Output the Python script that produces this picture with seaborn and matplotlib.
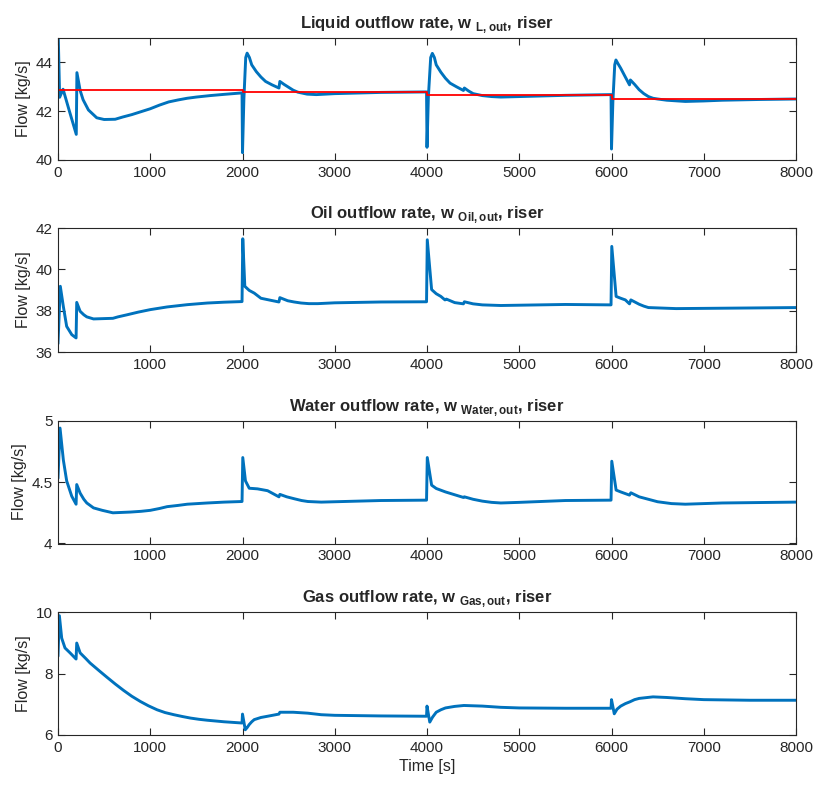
import numpy as np
import pandas as pd
import matplotlib
matplotlib.use("Agg")
import matplotlib.pyplot as plt
import seaborn as sns

# ---- data ----
liq_t = [0, 18, 55, 120, 198, 205, 240, 272, 330, 420, 500, 620, 700, 800, 900, 1000, 1100, 1200, 1300, 1400,
         1500, 1650, 1800, 1995,
         2000, 2015, 2035, 2050, 2075, 2100, 2150, 2200, 2250, 2320, 2395, 2405, 2450, 2500, 2550, 2600, 2700,
         2800, 2900, 3000, 3500, 3995,
         4000, 4015, 4040, 4058, 4080, 4100, 4150, 4200, 4250, 4320, 4395, 4405, 4450, 4500, 4600, 4700, 4800,
         5000, 5500, 5995,
         6000, 6015, 6035, 6048, 6070, 6100, 6150, 6195, 6205, 6250, 6300, 6350, 6400, 6450, 6500, 6600, 6800,
         7000, 7200, 7600, 8000]
liq_w = [45.5, 42.57, 42.9, 42.05, 41.05, 43.58, 42.85, 42.47, 42.05, 41.73, 41.66, 41.67, 41.76, 41.86, 41.98,
         42.1, 42.25, 42.38, 42.46, 42.53, 42.58, 42.64, 42.69, 42.75,
         40.3, 42.5, 44.2, 44.38, 44.2, 43.9, 43.62, 43.4, 43.22, 43.08, 42.95, 43.22, 43.1, 42.98, 42.86, 42.78,
         42.7, 42.68, 42.7, 42.72, 42.77, 42.79,
         40.52, 42.6, 44.2, 44.37, 44.2, 43.9, 43.6, 43.35, 43.15, 43.0, 42.85, 42.95, 42.83, 42.72, 42.64, 42.6,
         42.58, 42.6, 42.65, 42.68,
         40.45, 42.4, 43.9, 44.1, 43.95, 43.76, 43.4, 43.08, 43.28, 43.1, 42.88, 42.72, 42.6, 42.53, 42.5, 42.45,
         42.4, 42.42, 42.45, 42.48, 42.5]

ref_t = [0, 2000, 4000, 6000, 8000]
ref_w = [42.87, 42.79, 42.68, 42.52, 42.52]

oil_t = [0, 25, 58, 94, 149, 196, 203, 240, 280, 312, 385, 595, 650, 748, 870, 1000, 1183, 1401, 1619, 1800,
         1995,
         2003, 2025, 2073, 2127, 2200, 2308, 2395, 2405, 2490, 2560, 2635, 2720, 2817, 3000, 3500, 3995,
         4003, 4050, 4100, 4150, 4195, 4210, 4300, 4395, 4405, 4500, 4600, 4800, 5500, 5995,
         6003, 6050, 6100, 6150, 6195, 6210, 6300, 6350, 6400, 6700, 7500, 8000]
oil_w = [36.4, 39.18, 38.2, 37.24, 36.84, 36.68, 38.4, 37.97, 37.8, 37.7, 37.6, 37.63, 37.7, 37.8, 37.93, 38.05,
         38.18, 38.29, 38.37, 38.41, 38.44,
         41.48, 39.18, 38.98, 38.85, 38.6, 38.5, 38.42, 38.63, 38.48, 38.42, 38.37, 38.34, 38.34, 38.38, 38.42,
         38.43,
         41.43, 39.02, 38.82, 38.69, 38.52, 38.56, 38.39, 38.33, 38.43, 38.33, 38.28, 38.25, 38.3, 38.28,
         41.11, 38.69, 38.6, 38.52, 38.33, 38.52, 38.31, 38.22, 38.15, 38.1, 38.13, 38.15]

wat_t = [0, 22, 58, 94, 149, 196, 203, 240, 280, 312, 385, 480, 595, 784, 900, 1000, 1100, 1183, 1300, 1401,
         1619, 1800, 1995,
         2003, 2032, 2073, 2163, 2272, 2395, 2405, 2480, 2563, 2640, 2708, 2853, 3000, 3500, 3995,
         4003, 4050, 4100, 4200, 4395, 4405, 4500, 4600, 4700, 4800, 5000, 5500, 5995,
         6003, 6050, 6100, 6195, 6210, 6300, 6400, 6500, 6650, 6800, 7200, 8000]
wat_w = [4.53, 4.94, 4.68, 4.51, 4.385, 4.32, 4.48, 4.41, 4.36, 4.33, 4.29, 4.27, 4.25, 4.256, 4.262, 4.27,
         4.285, 4.30, 4.31, 4.32, 4.33, 4.337, 4.342,
         4.70, 4.51, 4.45, 4.445, 4.43, 4.38, 4.40, 4.38, 4.364, 4.35, 4.342, 4.337, 4.34, 4.35, 4.353,
         4.70, 4.475, 4.448, 4.42, 4.375, 4.38, 4.36, 4.345, 4.335, 4.33, 4.335, 4.35, 4.353,
         4.67, 4.435, 4.42, 4.394, 4.413, 4.38, 4.36, 4.34, 4.325, 4.32, 4.33, 4.337]

gas_t = [0, 15, 40, 76, 131, 196, 203, 240, 300, 348, 450, 530, 620, 711, 800, 893, 980, 1074, 1160, 1256,
         1350, 1437, 1530, 1619, 1800, 1995,
         2000, 2030, 2050, 2073, 2100, 2127, 2200, 2272, 2395, 2405, 2550, 2708, 2853, 3000, 3500, 3995,
         4000, 4030, 4060, 4100, 4150, 4200, 4300, 4400, 4600, 4800, 5000, 5500, 5995,
         6000, 6030, 6060, 6100, 6150, 6200, 6250, 6300, 6450, 6600, 6800, 7000, 7500, 8000]
gas_w = [8.56, 9.88, 9.15, 8.83, 8.67, 8.47, 8.99, 8.67, 8.49, 8.34, 8.08, 7.88, 7.66, 7.45, 7.26, 7.09, 6.95,
         6.82, 6.73, 6.66, 6.6, 6.55, 6.51, 6.48, 6.43, 6.39,
         6.68, 6.17, 6.24, 6.34, 6.43, 6.5, 6.57, 6.61, 6.68, 6.74, 6.74, 6.71, 6.66, 6.64, 6.62, 6.61,
         6.94, 6.42, 6.58, 6.74, 6.82, 6.88, 6.93, 6.96, 6.94, 6.9, 6.88, 6.87, 6.87,
         7.15, 6.69, 6.84, 6.94, 7.02, 7.08, 7.15, 7.19, 7.24, 7.22, 7.18, 7.15, 7.13, 7.13]

titles = [r"Liquid outflow rate, w $_{\mathbf{L,out}}$, riser",
          r"Oil outflow rate, w $_{\mathbf{Oil,out}}$, riser",
          r"Water outflow rate, w $_{\mathbf{Water,out}}$, riser",
          r"Gas outflow rate, w $_{\mathbf{Gas,out}}$, riser"]
ylims = [(40, 45), (36, 42), (4, 5), (6, 10)]
yticks = [[40, 42, 44], [36, 38, 40, 42], [4, 4.5, 5], [6, 8, 10]]
xticks_full = [0, 1000, 2000, 3000, 4000, 5000, 6000, 7000, 8000]
xticks_nozero = [1000, 2000, 3000, 4000, 5000, 6000, 7000, 8000]

# ---- style ----
sns.set_theme(style="ticks")
plt.rcParams['font.family'] = ['Liberation Sans', 'DejaVu Sans']
plt.rcParams['mathtext.fontset'] = 'custom'
plt.rcParams['mathtext.rm'] = 'Liberation Sans'
plt.rcParams['mathtext.bf'] = 'Liberation Sans:bold'
plt.rcParams['axes.edgecolor'] = '#262626'
plt.rcParams['xtick.color'] = '#262626'
plt.rcParams['ytick.color'] = '#262626'

blue = '#0072BD'

fig = plt.figure(figsize=(8.15, 7.86), dpi=100)
left, width = 58 / 815, 738 / 815
tops = [38, 228, 420.7, 612]
bots = [160, 352, 543.5, 735]

series = [(liq_t, liq_w), (oil_t, oil_w), (wat_t, wat_w), (gas_t, gas_w)]

for i in range(4):
    ax = fig.add_axes([left, 1 - bots[i] / 786, width, (bots[i] - tops[i]) / 786])
    t, w = series[i]
    df = pd.DataFrame({'t': t, 'w': w})
    sns.lineplot(data=df, x='t', y='w', ax=ax, color=blue, linewidth=2.1,
                 sort=False, estimator=None)
    if i == 0:
        dref = pd.DataFrame({'t': ref_t, 'w': ref_w})
        sns.lineplot(data=dref, x='t', y='w', ax=ax, color='red', linewidth=1.3,
                     drawstyle='steps-post', sort=False, estimator=None)
    ax.set_xlim(0, 8000)
    ax.set_ylim(*ylims[i])
    ax.set_yticks(yticks[i])
    ax.set_yticklabels([f"{v:g}" for v in yticks[i]])
    if i in (1, 2):
        ax.set_xticks(xticks_nozero)
    else:
        ax.set_xticks(xticks_full)
    ax.tick_params(direction='in', top=True, right=True, length=5, width=0.8,
                   labelsize=11, pad=4)
    for s in ax.spines.values():
        s.set_linewidth(0.8)
    ax.set_title(titles[i], fontsize=12, fontweight='bold', pad=7)
    ax.set_ylabel("Flow [kg/s]", fontsize=11.5, color='#262626', labelpad=3)
    if i == 3:
        ax.set_xlabel("Time [s]", fontsize=11.5, color='#262626', labelpad=3)
    else:
        ax.set_xlabel("")

fig.savefig("out.png", dpi=100)
